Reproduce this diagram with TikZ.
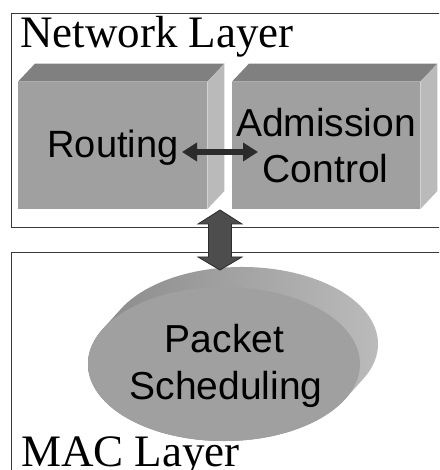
\documentclass[tikz,border=0pt]{standalone}
\usepackage{fontspec}
\setmainfont{Liberation Serif}
\newfontfamily\arialf{Liberation Sans}
\usetikzlibrary{arrows.meta,shapes.geometric}
\definecolor{facefront}{HTML}{A0A0A0}
\definecolor{facetop}{HTML}{808080}
\definecolor{faceside}{HTML}{BABABA}
\definecolor{rimdark}{HTML}{868686}
\definecolor{rimlight}{HTML}{BEBEBE}
\definecolor{arrowdark}{HTML}{2B2B2B}
\definecolor{blockarrow}{HTML}{4D4D4D}
\definecolor{borderc}{HTML}{3A3A3A}
\tikzset{
  layerbox/.style={draw=borderc, line width=1pt, fill=white},
  frontface/.style={fill=facefront, draw=none, inner sep=0pt, rectangle},
  topface/.style={fill=facetop},
  sideface/.style={fill=faceside},
  serifbig/.style={font=\fontsize{45}{45}\selectfont, inner sep=0pt, text=black},
  sanslabel/.style={font=\arialf\fontsize{39}{39}\selectfont, inner sep=0pt, text=black},
  harrow/.style={draw=arrowdark, line width=6.5pt, {Triangle[length=15pt,width=18pt]}-{Triangle[length=15pt,width=18pt]}},
  varrow/.style={fill=blockarrow, draw=arrowdark, line width=0.8pt},
}
\begin{document}
\begin{tikzpicture}[x=1pt,y=1pt]
\useasboundingbox (0,0) rectangle (439,470);
\clip (0,0) rectangle (439,470);
% layer boxes
\node[layerbox, rectangle, minimum width=450, minimum height=214, anchor=south west, inner sep=0pt] (net) at (11,242) {};
\node[layerbox, rectangle, minimum width=450, minimum height=240, anchor=south west, inner sep=0pt] (mac) at (11,-23) {};
% Routing block
\node[frontface, minimum width=189, minimum height=127, anchor=south west] (rbox) at (18,261) {};
\fill[topface] (rbox.north west) -- ++(17,18) -- ([shift={(17,18)}]rbox.north east) -- (rbox.north east) -- cycle;
\fill[sideface] (rbox.north east) -- ++(17,18) -- ([shift={(17,18)}]rbox.south east) -- (rbox.south east) -- cycle;
% Admission block
\node[frontface, minimum width=188, minimum height=127, anchor=south west] (abox) at (232,261) {};
\fill[topface] (abox.north west) -- ++(17,18) -- ([shift={(17,18)}]abox.north east) -- (abox.north east) -- cycle;
\fill[sideface] (abox.north east) -- ++(17,18) -- ([shift={(17,18)}]abox.south east) -- (abox.south east) -- cycle;
% Packet scheduling disc
\node[ellipse, fill=facefront, minimum width=272, minimum height=154, inner sep=0pt] (ps) at (224,106) {};
\shade[left color=rimdark, right color=rimlight]
  (ps.center) ++(-27:136 and 77) -- ++(18,20)
  arc[start angle=-27, end angle=153, x radius=136, y radius=77]
  -- ++(-18,-20)
  arc[start angle=153, end angle=333, x radius=136, y radius=77] -- cycle;
\fill[facefront] (ps.center) ellipse[x radius=136, y radius=77];
% texts
\node[serifbig, anchor=base west] (nettext) at (20,422) {Network Layer};
\node[serifbig, anchor=base west] (mactext) at (21,3) {MAC Layer};
\node[sanslabel, anchor=base, font=\arialf\fontsize{38}{38}\selectfont] (rtext) at (113,312) {Routing};
\node[sanslabel, anchor=base] (atext1) at (326,333) {Admission};
\node[sanslabel, anchor=base] (atext2) at (325.5,287) {Control};
\node[sanslabel, anchor=base] (ptext1) at (224.5,117) {Packet};
\node[sanslabel, anchor=base] (ptext2) at (226,70) {Scheduling};
% horizontal arrow Routing <-> Admission Control
\coordinate (ha) at (182,318);
\coordinate (hb) at (258,318);
\draw[harrow] (ha) -- (hb);
% vertical block arrow network <-> MAC
\coordinate (vt) at (220,260);
\coordinate (vb) at (220,200);
\filldraw[varrow] (vt) -- ++(22,-14) -- ++(-10.5,0) -- ([xshift=11.5pt,yshift=13pt]vb) -- ++(10.5,0) -- (vb)
  -- ++(-22,13) -- ++(10.5,0) -- ([xshift=-11.5pt,yshift=-14pt]vt) -- ++(-10.5,0) -- cycle;
\end{tikzpicture}
\end{document}
